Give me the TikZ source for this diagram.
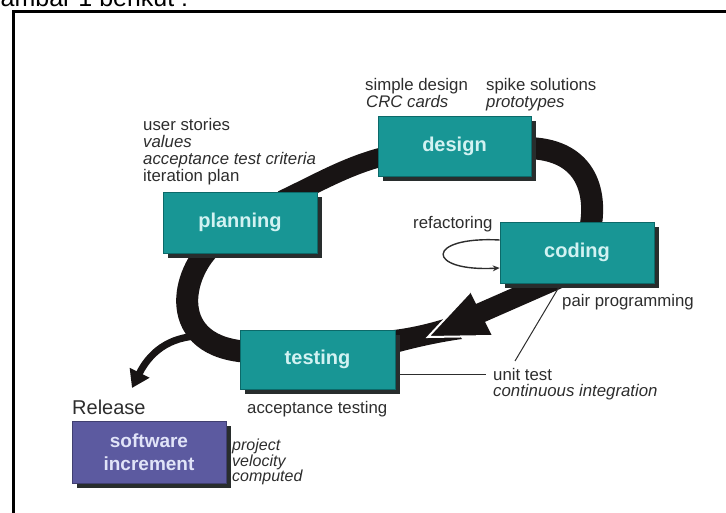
\documentclass[tikz,border=0pt]{standalone}
\usepackage{fontspec}
\setmainfont{Liberation Sans}
\usetikzlibrary{shadows,arrows.meta,calc}
\definecolor{tealbox}{RGB}{24,150,149}
\definecolor{tealedge}{RGB}{12,105,105}
\definecolor{shadowc}{RGB}{40,45,45}
\definecolor{purplebox}{RGB}{92,90,160}
\definecolor{labelc}{RGB}{210,242,242}
\definecolor{labelp}{RGB}{225,228,248}
\definecolor{txt}{RGB}{45,45,45}
\definecolor{bandc}{RGB}{24,20,20}
\pgfdeclarelayer{bg}
\pgfsetlayers{bg,main}
\begin{document}
\begin{tikzpicture}[x=1pt,y=-1pt,
  box/.style={rectangle, fill=tealbox, draw=tealedge, line width=0.6pt,
    minimum width=154pt, minimum height=61pt, inner sep=0pt, text=labelc,
    font=\fontsize{20}{22}\selectfont\bfseries,
    drop shadow={shadow xshift=5pt, shadow yshift=-5pt, fill=shadowc, opacity=1}},
  lab/.style={anchor=base west, inner sep=0pt, text=txt, font=\fontsize{16.8}{17}\selectfont},
  labi/.style={lab, font=\fontsize{16.8}{17}\selectfont\itshape},
  labs/.style={lab, font=\fontsize{16}{16}\selectfont\itshape},
  band/.style={draw=bandc, line width=#1},
  thin/.style={draw=txt, line width=1pt}
]
\useasboundingbox (0,0) rectangle (726,513);

% header (cut off at top)
\begin{scope}
\clip (0,0) rectangle (726,513);
\node[anchor=base west, inner sep=0pt, font=\fontsize{25}{30}\selectfont, text=black] (hdr) at (-19,7) {Gambar 1 berikut :};
\end{scope}

% frame
\draw[line width=3pt] (13.5,513) -- (13.5,11.5) -- (726,11.5);

% boxes
\node[box] (planning) at (240,222.5) {planning};
\node[box, minimum width=153pt, minimum height=60pt] (design) at (454.5,146) {design};
\node[box] (coding) at (577,252.5) {coding};
\node[box, minimum width=155pt, minimum height=59pt] (testing) at (317.5,359.5) {testing};
\node[box, fill=purplebox, draw=purplebox!70!black, text=labelp, minimum height=62pt,
  align=center, font=\fontsize{19}{23}\selectfont\bfseries] (soft) at (149,452) {software\\increment};

% texts
\node[lab]  (us)  at (143,131) {user stories};
\node[labi] (val) at (143,148) {values};
\node[labi] (atc) at (143,165) {acceptance test criteria};
\node[lab]  (ip)  at (143,182) {iteration plan};
\node[lab]  (sd)  at (365,91) {simple design};
\node[labi] (crc) at (366,108) {CRC cards};
\node[lab]  (ss)  at (486,91) {spike solutions};
\node[labi] (pt)  at (486,108) {prototypes};
\node[lab]  (ref) at (413,229) {refactoring};
\node[lab]  (pp)  at (562,306) {pair programming};
\node[lab]  (ut)  at (493,380) {unit test};
\node[labi] (ci)  at (493,396) {continuous integration};
\node[lab]  (at)  at (247,413) {acceptance testing};
\node[lab, font=\fontsize{20}{22}\selectfont] (rel) at (72,414) {Release};
\node[labs] (proj) at (232,450) {project};
\node[labs] (vel)  at (232,466) {velocity};
\node[labs] (comp) at (232,481) {computed};

% cycle bands (behind boxes)
\begin{pgfonlayer}{bg}
\draw[band=19pt] ($(planning.center)+(42,-22.5)$) .. controls (320,182) and (350,164) .. ($(design.center)+(-64.5,9)$);
\draw[band=22pt] ($(design.center)+(70.5,2)$) .. controls (585,148) and (598,190) .. ($(coding.center)+(13,-22.5)$);
\draw[band=20pt] ($(coding.center)+(-17,25.5)$) -- (478,314);
\fill[bandc] ($(testing.center)+(67.5,-28.5)$) .. controls (405,329) and (425,325) .. (447,318)
   -- (462,339) .. controls (440,342) and (412,348) .. ($(testing.center)+(67.5,-3.5)$) -- cycle;
\draw[band=22pt] ($(testing.center)+(-67.5,-7.5)$) .. controls (165,348) and (180,272) .. ($(planning.center)+(-25,20.5)$);
\coordinate (relstart) at (205,336);
\draw[band=7pt, -{Triangle[length=17pt,width=21pt]}] (relstart) .. controls (175,335) and (152,348) .. (132,388);
\end{pgfonlayer}

% big arrowhead towards testing
\coordinate (ah1) at (470,292);
\coordinate (ah2) at (492,336);
\coordinate (ah3) at (428,337);
\fill[bandc] (ah1) -- (ah2) -- (ah3) -- cycle;
\draw[white, line width=2pt, line cap=round] (ah1) -- (ah3) -- (ah2);

% refactoring loop
\draw[draw=txt, line width=1.4pt, -{Stealth[length=7pt,width=6pt]}]
  ([yshift=12.5pt]coding.west) .. controls (425,236) and (425,272) .. ([yshift=-15.5pt]coding.west);

% thin leader lines
\coordinate (utl) at (515,361);
\coordinate (uth) at (486,374);
\draw[thin] ([xshift=-17pt,yshift=-2pt]coding.south) -- (utl);
\draw[thin] ([yshift=-14.5pt,xshift=4pt]testing.east) -- (uth);
\end{tikzpicture}
\end{document}
